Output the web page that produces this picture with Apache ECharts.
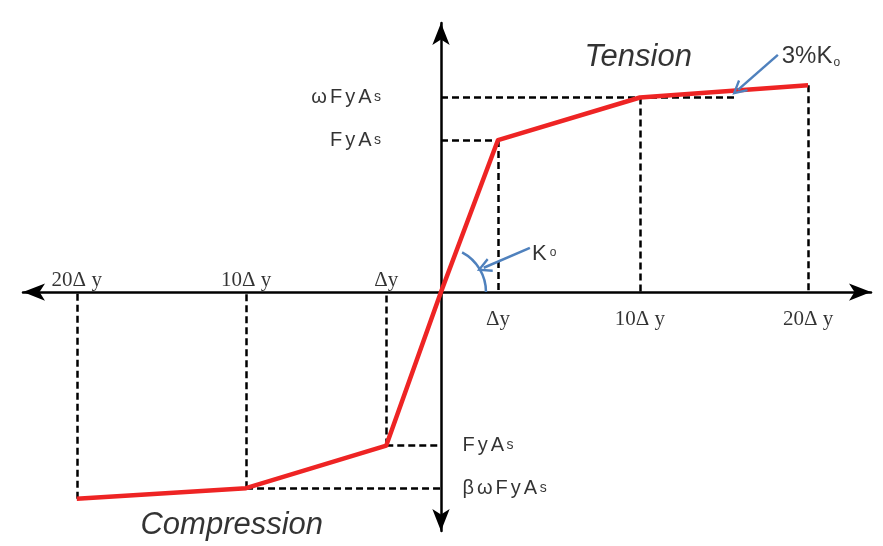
<!DOCTYPE html>
<html><head><meta charset="utf-8">
<script src="https://cdn.jsdelivr.net/npm/echarts@6/dist/echarts.min.js"></script>
<style>html,body{margin:0;padding:0;background:#fff}#c{width:883px;height:546px}</style>
</head><body><div id="c"></div>
<script>
// Schematic (not-to-scale) units as drawn: x in "Δy widths", y in "FyAs heights"
const tensionX = [0, 1.00, 3.49, 6.44];
const tensionY = [0, 1.00, 1.28, 1.36];
const compressionX = [0, -0.96, -3.42, -6.39];
const compressionY = [0, -1.01, -1.29, -1.36];
const tensionTickLabels = ['Δy', '10Δ y', '20Δ y'];
const compressionTickLabels = ['Δy', '10Δ y', '20Δ y'];
const tensionForceLabels = ['{b|F}{b|y}{b|A}{s|s}', '{b|ω}{b|F}{b|y}{b|A}{s|s}'];
const compressionForceLabels = ['{b|F}{b|y}{b|A}{s|s}', '{b|β}{b|ω}{b|F}{b|y}{b|A}{s|s}'];
const hardeningGuideEndX = 5.16;
const k0Arrow = [[1.56, 0.29], [0.75, 0.16]];
const hardeningArrow = [[5.91, 1.56], [5.21, 1.33]];
const regionLabels = ['Tension', 'Compression'];
const regionLabelPos = [[3.46, 1.546], [-3.67, -1.533]];
const k0Label = '{k|K}{o|o}';
const k0LabelPos = [1.81, 0.25];
const hardeningLabel = '{k|3%K}{sub|o}';
const hardeningLabelPos = [6.49, 1.55];
const xRange = [-7.333, 7.544];
const yRange = [-1.572, 1.770];

const SANS = "'Liberation Sans', Arial, sans-serif";
const SERIF = "'Liberation Serif', 'Times New Roman', serif";
const BLUE = '#4f81bd';
const RED = '#ee2424';
const INK = '#000000';

// dashed guide segments
const guides = [];
for (let i = 1; i < tensionX.length; i++) {
  guides.push({coords: [[tensionX[i], tensionY[i]], [tensionX[i], 0]]});
}
guides.push({coords: [[0, tensionY[1]], [tensionX[1], tensionY[1]]]});
guides.push({coords: [[0, tensionY[2]], [hardeningGuideEndX, tensionY[2]]]});
for (let i = 1; i < compressionX.length; i++) {
  guides.push({coords: [[compressionX[i], compressionY[i]], [compressionX[i], 0]]});
}
guides.push({coords: [[compressionX[1], compressionY[1]], [0, compressionY[1]]]});
guides.push({coords: [[compressionX[2], compressionY[2]], [0, compressionY[2]]]});

const curve = [];
for (let i = compressionX.length - 1; i >= 1; i--) curve.push([compressionX[i], compressionY[i]]);
for (let i = 0; i < tensionX.length; i++) curve.push([tensionX[i], tensionY[i]]);

const richForce = {
  b: {fontSize: 20, fontFamily: SANS, color: INK, padding: [0, 1.5]},
  s: {fontSize: 14, fontFamily: SANS, color: INK, padding: [0, 1]}
};
const noBorder = {textBorderWidth: 0, textShadowBlur: 0};

const axisCommon = {
  type: 'value',
  axisLine: {show: true, onZero: true, symbol: ['arrow', 'arrow'], symbolSize: [13, 22],
             lineStyle: {color: INK, width: 2.5}},
  axisTick: {show: false}, axisLabel: {show: false}, splitLine: {show: false}
};

const chart = echarts.init(document.getElementById('c'), null, {renderer: 'canvas'});
chart.setOption({
  animation: false,
  backgroundColor: '#fff',
  grid: {left: 23, right: 12, top: 23, bottom: 15, containLabel: false},
  xAxis: Object.assign({min: xRange[0], max: xRange[1]}, axisCommon),
  yAxis: Object.assign({min: yRange[0], max: yRange[1]}, axisCommon),
  series: [
    {
      type: 'lines', coordinateSystem: 'cartesian2d', z: 3, silent: true,
      lineStyle: {color: INK, width: 2.5, type: [7, 4], opacity: 1, curveness: 0},
      data: guides
    },
    {
      type: 'line', data: curve, symbol: 'none', z: 5, clip: false, silent: true,
      lineStyle: {color: RED, width: 4.5, join: 'round'}
    },
    {
      type: 'custom', coordinateSystem: 'cartesian2d', z: 6, silent: true,
      data: [[tensionX[0], tensionY[0]]],
      renderItem: function (params, api) {
        const c = api.coord([tensionX[0], tensionY[0]]);
        const p = api.coord([tensionX[1], tensionY[1]]);
        const a = Math.atan2(p[1] - c[1], p[0] - c[0]);
        return {type: 'arc', shape: {cx: c[0], cy: c[1], r: 45, startAngle: a + 0.13, endAngle: 0, clockwise: true},
                style: {stroke: BLUE, lineWidth: 2.5, fill: null}};
      }
    },
    {
      type: 'lines', coordinateSystem: 'cartesian2d', z: 7, silent: true,
      symbol: ['none', 'path://M0,12 L6,0 L12,12 L10.2,12.8 L6,4.2 L1.8,12.8 Z'], symbolSize: 15,
      lineStyle: {color: BLUE, width: 2.5, opacity: 1, curveness: 0},
      data: [{coords: k0Arrow}, {coords: hardeningArrow}]
    },
    {
      type: 'scatter', symbolSize: 0, z: 8, silent: true,
      data: tensionX.slice(1).map((x, i) => ({value: [x, 0], name: tensionTickLabels[i]})),
      label: Object.assign({show: true, position: 'bottom', distance: 17, formatter: '{b}',
              fontFamily: SERIF, fontSize: 21, color: INK}, noBorder)
    },
    {
      type: 'scatter', symbolSize: 0, z: 8, silent: true,
      data: compressionX.slice(1).map((x, i) => ({value: [x, 0], name: compressionTickLabels[i]})),
      label: Object.assign({show: true, position: 'top', distance: 1, formatter: '{b}',
              fontFamily: SERIF, fontSize: 21, color: INK}, noBorder)
    },
    {
      type: 'scatter', symbolSize: 0, z: 8, silent: true,
      data: [1, 2].map((i, k) => ({value: [0, tensionY[i]], name: tensionForceLabels[k]})),
      label: Object.assign({show: true, position: 'left', distance: 59, formatter: '{b}', rich: richForce}, noBorder)
    },
    {
      type: 'scatter', symbolSize: 0, z: 8, silent: true,
      data: [1, 2].map((i, k) => ({value: [0, compressionY[i]], name: compressionForceLabels[k]})),
      label: Object.assign({show: true, position: 'right', distance: 20, formatter: '{b}', rich: richForce}, noBorder)
    },
    {
      type: 'scatter', symbolSize: 0, z: 8, silent: true,
      data: regionLabels.map((t, i) => ({value: regionLabelPos[i], name: t})),
      label: Object.assign({show: true, position: 'inside', formatter: '{b}', fontFamily: SANS,
              fontStyle: 'italic', fontSize: 31, color: INK}, noBorder)
    },
    {
      type: 'scatter', symbolSize: 0, z: 8, silent: true,
      data: [{value: k0LabelPos, name: k0Label}],
      label: Object.assign({show: true, position: 'inside', formatter: '{b}',
              rich: {k: {fontSize: 22, fontFamily: SANS, color: INK},
                     o: {fontSize: 12, fontFamily: SANS, color: INK, padding: [0, 0, 2, 3]}}}, noBorder)
    },
    {
      type: 'scatter', symbolSize: 0, z: 8, silent: true,
      data: [{value: hardeningLabelPos, name: hardeningLabel}],
      label: Object.assign({show: true, position: 'inside', formatter: '{b}',
              rich: {k: {fontSize: 24, fontFamily: SANS, color: INK, lineHeight: 24},
                     sub: {fontSize: 12, fontFamily: SANS, color: INK, lineHeight: 2, verticalAlign: 'bottom', padding: [0, 0, 0, 1]}}}, noBorder)
    }
  ]
});
</script>
</body></html>
